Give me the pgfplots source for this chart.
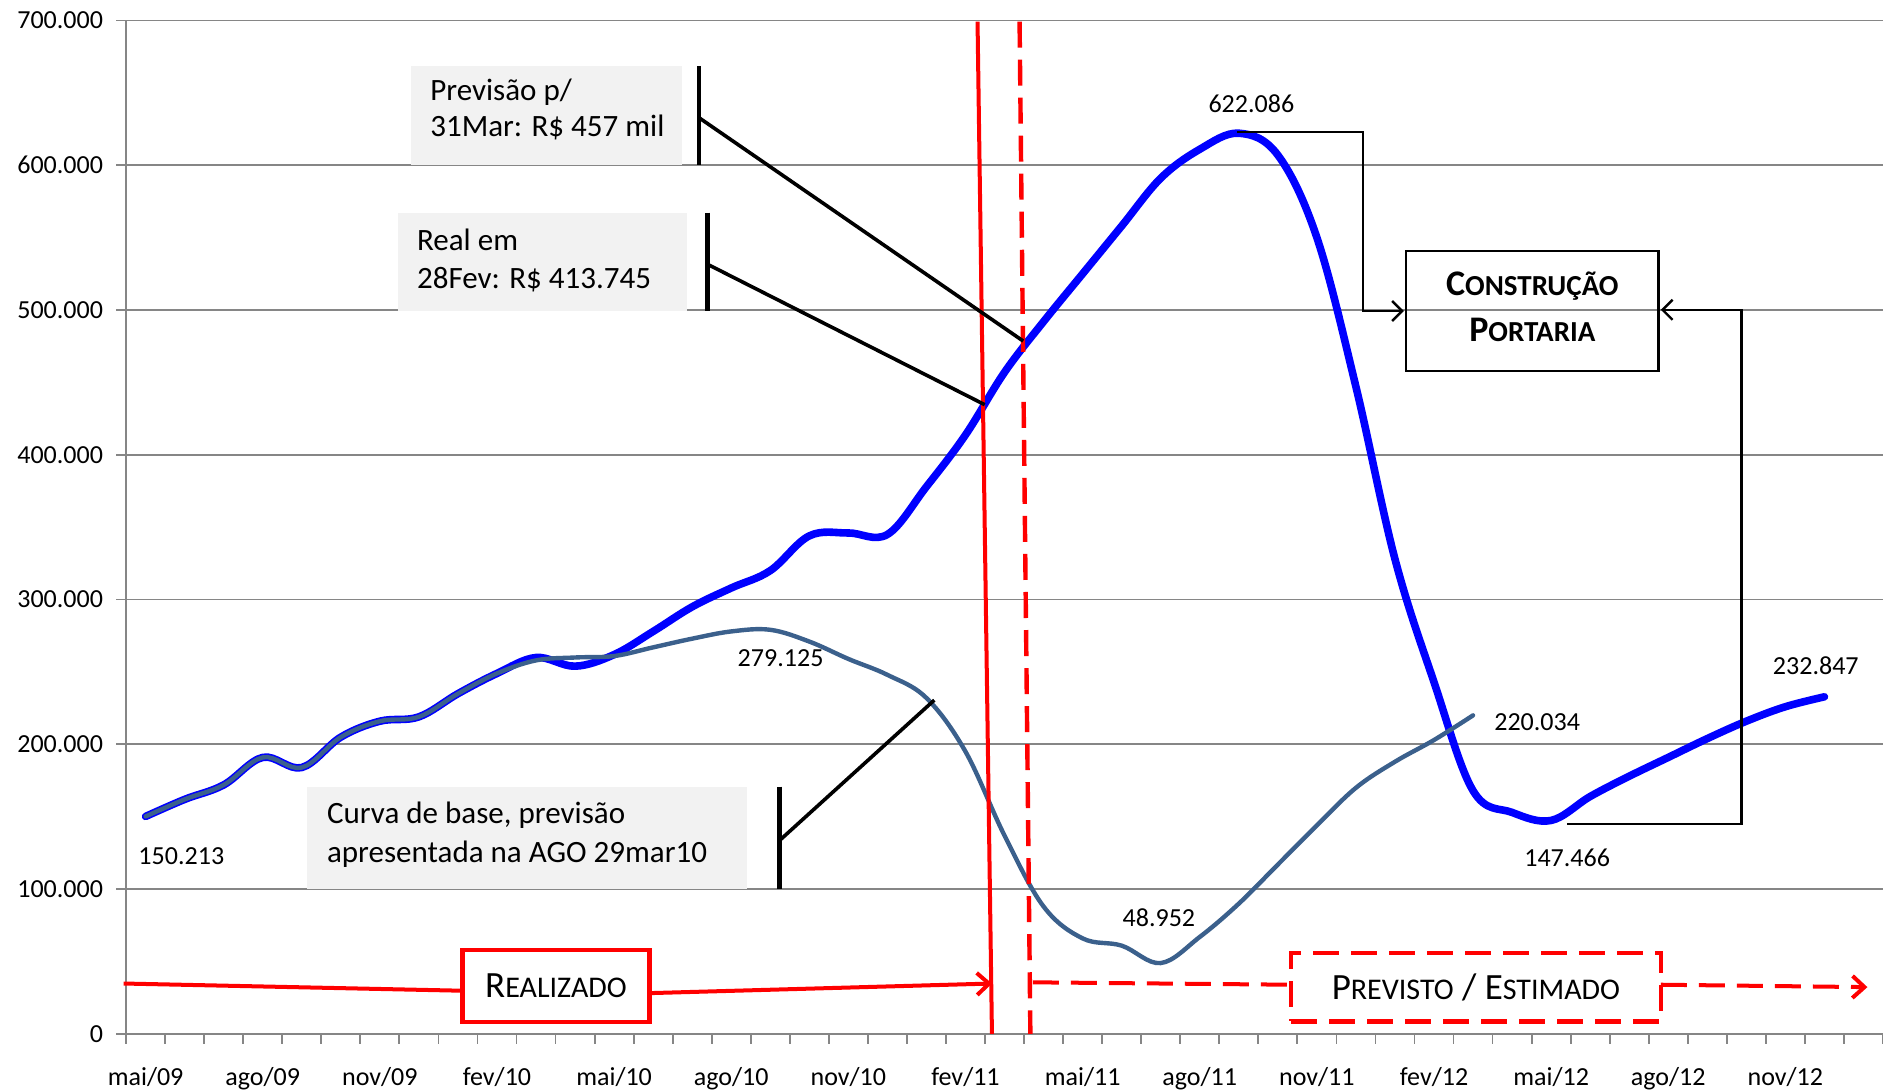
\documentclass[border=0pt]{standalone}
\usepackage{pgfplots}
\pgfplotsset{compat=1.18}
\usepackage{fontspec}
\setmainfont{Carlito}
\usetikzlibrary{arrows.meta}
\definecolor{gridgray}{RGB}{134,134,134}
\definecolor{basecol}{RGB}{59,96,140}
\definecolor{boxgray}{RGB}{242,242,242}
% fake small caps
\newcommand\scA[2]{{\fontsize{18.5}{22}\selectfont #1}{\fontsize{15}{22}\selectfont #2}}
\newcommand\scB[2]{{\fontsize{18}{22}\selectfont\bfseries #1}{\fontsize{14.5}{22}\selectfont\bfseries #2}}
\newcommand\boxfont{\fontsize{15.5}{18}\selectfont}
\newcommand\lblfont{\fontsize{13}{15}\selectfont}

\begin{document}
\begin{tikzpicture}
\begin{axis}[
  at={(0,0)}, anchor=south west,
  width=877.8pt, height=506.4pt, scale only axis,
  xmin=-0.5, xmax=44.5, ymin=0, ymax=700,
  axis x line*=bottom, axis y line*=left,
  axis line style={draw=gridgray, line width=0.9pt},
  ytick={0,100,...,700},
  yticklabels={0,100.000,200.000,300.000,400.000,500.000,600.000,700.000},
  ymajorgrids, grid style={draw=gridgray, line width=0.9pt},
  xtick={0,3,...,42},
  xticklabels={mai/09,ago/09,nov/09,fev/10,mai/10,ago/10,nov/10,fev/11,mai/11,ago/11,nov/11,fev/12,mai/12,ago/12,nov/12},
  minor xtick={-0.5,0.5,...,44.5},
  every major x tick/.style={draw=none},
  every minor x tick/.style={draw=gridgray, line width=0.9pt},
  every major y tick/.style={draw=gridgray, line width=0.9pt},
  tick align=outside, major tick length=5pt, minor tick length=5pt,
  tick label style={font=\lblfont, text=black},
  xticklabel style={yshift=-8pt},
  yticklabel style={xshift=-3pt},
  clip=false,
]
% Realizado + previsto (serie atual)
\addplot[blue, line width=3.8pt, smooth, tension=0.6, line cap=round, line join=round] coordinates {
 (0,150.213) (1,162) (2,172) (3,191) (4,184) (5,205) (6,216) (7,219) (8,235) (9,249)
 (10,260) (11,254) (12,262) (13,278) (14,295) (15,308) (16,320) (17,344) (18,346) (19,345)
 (20,378) (21,413.745) (22,457) (23,492) (24,525) (25,558) (26,591) (27,611) (28,622.086) (29,607)
 (30,550) (31,447) (32,328) (33,243) (34,168) (35,153) (36,147.466) (37,164) (38,178) (39,191)
 (40,204) (41,216) (42,226) (43,232.847)
};
% Curva de base
\addplot[basecol, line width=2.2pt, smooth, tension=0.6, line cap=round, line join=round] coordinates {
 (0,150.213) (1,162) (2,172) (3,191) (4,184) (5,205) (6,216) (7,219) (8,235) (9,249)
 (10,258) (11,260) (12,261) (13,267) (14,273) (15,278) (16,279.125) (17,271) (18,259) (19,248)
 (20,232) (21,195) (22,137) (23,88) (24,66) (25,61) (26,48.952) (27,67) (28,90) (29,117)
 (30,144) (31,170) (32,188) (33,203) (34,220.034)
};
\end{axis}

% annotations, in pixel units of the reference (1568 x 908 frame)
\begin{scope}[x=0.6pt, y=-0.6pt, shift={(-63pt,516.6pt)}]
  % red markers
  \draw[red, line width=2pt] (814,18) -- (826,861);
  \draw[red, line width=2.2pt, dash pattern=on 13pt off 6pt] (849,18) -- (858,861);
  \draw[red, line width=2pt] (103,819) -- (385,825);
  \draw[red, line width=2pt, -{Straight Barb[length=6pt,width=11pt]}] (541,827) -- (826,819);
  \node[draw=red, line width=2.2pt, fill=white, minimum width=93.6pt, minimum height=36pt, inner sep=0pt]
    at (463,821) {\scA{R}{EALIZADO}};
  \draw[red, line width=2pt, dash pattern=on 13pt off 6pt] (860,818) -- (1075,820);
  \node[draw=red, line width=2.2pt, dash pattern=on 13pt off 6pt, fill=white, minimum width=184.8pt, minimum height=34.2pt, inner sep=0pt]
    at (1229,822) {\scA{P}{REVISTO}\fontsize{18.5}{22}\selectfont{} / \scA{E}{STIMADO}};
  \draw[red, line width=2pt, dash pattern=on 13pt off 6pt, -{Straight Barb[length=6pt,width=11pt]}] (1383,820) -- (1555,822);

  % Construcao portaria
  \draw[black, line width=1.2pt] (1171,209) rectangle (1381,309);
  \node at (1276,238) {\scB{C}{ONSTRUÇÃO}};
  \node at (1276,275) {\scB{P}{ORTARIA}};
  \draw[black, line width=1.2pt, -{Straight Barb[length=5pt,width=10pt]}] (1030,110) -- (1135,110) -- (1135,259) -- (1169,259);
  \draw[black, line width=1.2pt, -{Straight Barb[length=5pt,width=10pt]}] (1305,686) -- (1450,686) -- (1450,258) -- (1383,258);

  % callouts
  \fill[boxgray] (342,55) rectangle (568,137);
  \node[anchor=west, inner sep=0pt, font=\boxfont] at (358,77) {Previsão p/};
  \node[anchor=west, inner sep=0pt, font=\boxfont] at (358,106) {31Mar: R\$ 457 mil};
  \draw[line width=2.4pt] (582,55) -- (582,137);
  \draw[line width=1.8pt] (582,98) -- (852,284);

  \fill[boxgray] (331,177) rectangle (572,259);
  \node[anchor=west, inner sep=0pt, font=\boxfont] at (347,200) {Real em};
  \node[anchor=west, inner sep=0pt, font=\boxfont] at (347,233) {28Fev: R\$ 413.745};
  \draw[line width=2.4pt] (589,177) -- (589,259);
  \draw[line width=1.8pt] (589,220) -- (820,337);

  \fill[boxgray] (256,655) rectangle (622,740);
  \node[anchor=west, inner sep=0pt, font=\boxfont] at (272,679) {Curva de base, previsão};
  \node[anchor=west, inner sep=0pt, font=\boxfont] at (272,711) {apresentada na AGO 29mar10};
  \draw[line width=2.4pt] (649,655) -- (649,740);
  \draw[line width=1.8pt] (649,700) -- (778,583);

  % data labels
  \node[font=\lblfont] at (1042,86) {622.086};
  \node[font=\lblfont] at (650,548) {279.125};
  \node[font=\lblfont] at (151,713) {150.213};
  \node[font=\lblfont] at (965,764) {48.952};
  \node[font=\lblfont] at (1305,714) {147.466};
  \node[font=\lblfont] at (1280,601) {220.034};
  \node[font=\lblfont] at (1512,554) {232.847};
\end{scope}

\pgfresetboundingbox
\path[use as bounding box] (-63pt,-28.2pt) rectangle (877.8pt,516.6pt);
\end{tikzpicture}
\end{document}
